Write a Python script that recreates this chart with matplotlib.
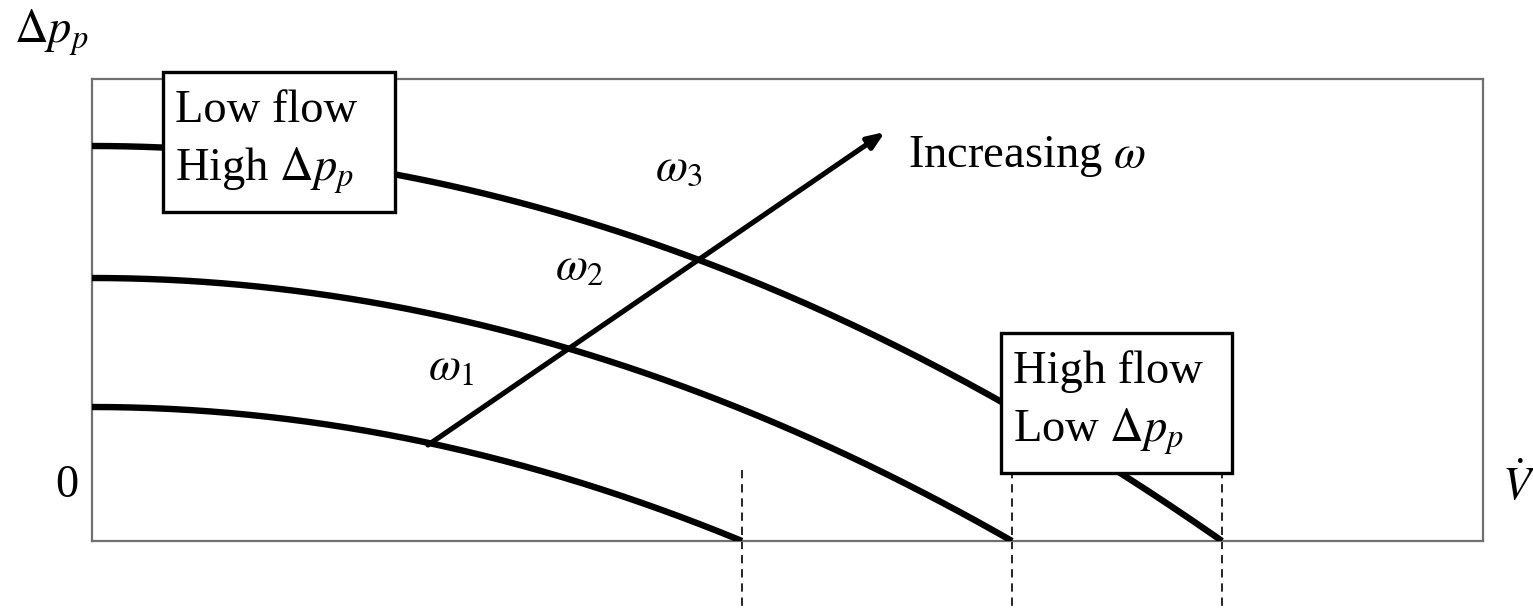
import numpy as np
import matplotlib
matplotlib.use("Agg")
import matplotlib.pyplot as plt
from matplotlib.patches import Rectangle

plt.rcParams['font.family'] = ['Liberation Serif', 'DejaVu Serif']
plt.rcParams['mathtext.fontset'] = 'stix'

# ---- data (schematic pump curves) ----
speed_labels = [r'$\omega_1$', r'$\omega_2$', r'$\omega_3$']
shutoff_head = [1.34, 2.63, 3.95]      # Δp at zero flow
max_flow = [6.50, 9.20, 11.30]          # flow at zero Δp
arrow_start = (3.36, 0.96)
arrow_end = (7.93, 4.09)
speed_label_pos = [(3.36, 1.61), (4.63, 2.61), (5.63, 3.61)]

W, H = 1533, 611
fig = plt.figure(figsize=(W / 100, H / 100), dpi=100)
L, R, T, B = 92, 1483, 79, 541
ax = fig.add_axes([L / W, (H - B) / H, (R - L) / W, (B - T) / H])
ax.set_xlim(0, (R - L) / 100)
ax.set_ylim(0, (B - T) / 100)
ax.set_xticks([])
ax.set_yticks([])
for s in ax.spines.values():
    s.set_color('#707070')
    s.set_linewidth(1.6)

def px(x, y):
    return ((x - L) / 100, (B - y) / 100)

FS = 33.5
# curves
for h0, vmax in zip(shutoff_head, max_flow):
    v = np.linspace(0, vmax, 200)
    ax.plot(v, h0 * (1 - (v / vmax) ** 2), color='black', lw=4.6,
            solid_capstyle='butt', zorder=3)
    # dashed drop lines
    y0 = px(0, 470)[1]
    y1 = px(0, 608)[1]
    ax.plot([vmax, vmax], [y0, y1], color='black', lw=1.2,
            ls=(0, (5, 3.5)), clip_on=False, zorder=2)

# arrow
ax.annotate('', xy=arrow_end, xytext=arrow_start,
            arrowprops=dict(arrowstyle='-|>,head_length=1.0,head_width=0.4',
                            color='black', lw=3.7, shrinkA=0, shrinkB=0),
            zorder=4)

for lab, (x, y) in zip(speed_labels, speed_label_pos):
    ax.text(x, y, lab, fontsize=FS, ha='left', va='baseline', zorder=5)

ax.text(*px(908, 167), r'Increasing $\omega$', fontsize=FS, ha='left', va='baseline')

# boxes
for (bx0, by0, bx1, by1), lines, baselines in [
    ((163, 72, 395, 212), ['Low flow', r'High $\Delta p_p$'], [122, 181]),
    ((1001, 333, 1232, 473), ['High flow', r'Low $\Delta p_p$'], [383, 442]),
]:
    x0, y0 = px(bx0, by1)
    x1, y1 = px(bx1, by0)
    ax.add_patch(Rectangle((x0, y0), x1 - x0, y1 - y0, facecolor='white',
                           edgecolor='black', lw=2.4, zorder=6, clip_on=False))
    for ln, bl in zip(lines, baselines):
        ax.text(*px(bx0 + 12, bl), ln, fontsize=FS, ha='left', va='baseline',
                zorder=7)

# axis annotations
ax.text(*px(14, 43), r'$\Delta p_p$', fontsize=FS, ha='left', va='baseline', clip_on=False)
ax.text(*px(55, 497), '0', fontsize=FS, ha='left', va='baseline', clip_on=False)
ax.text(*px(1502, 500), r'$\dot{V}$', fontsize=FS, ha='left', va='baseline', clip_on=False)

fig.savefig('out.png', dpi=100)
